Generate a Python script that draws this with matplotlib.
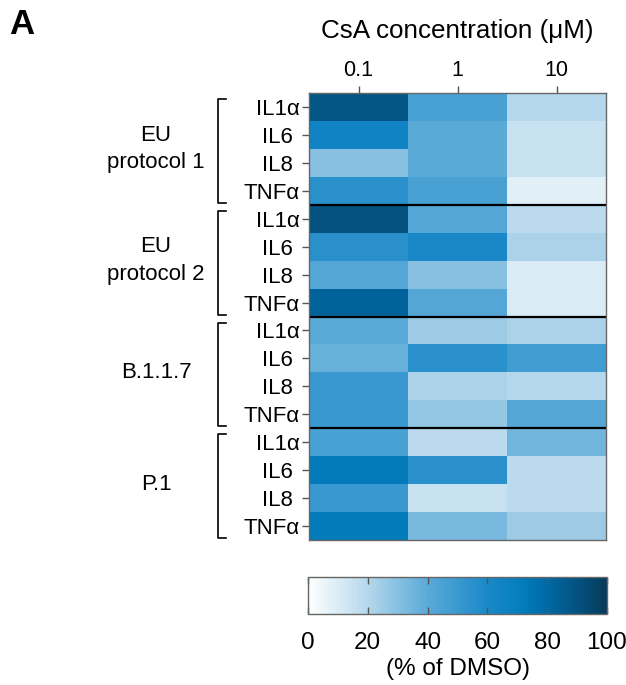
import matplotlib
matplotlib.use("Agg")

import matplotlib.pyplot as plt
import numpy as np
from matplotlib.colors import LinearSegmentedColormap
from matplotlib.transforms import blended_transform_factory

plt.rcParams.update({
    "font.family": ["Liberation Sans", "DejaVu Sans"],
    "font.size": 16,
})

concentrations = ["0.1", "1", "10"]
cytokines = ["IL1\u03b1", "IL6 ", "IL8 ", "TNF\u03b1"]
groups = ["EU\nprotocol 1", "EU\nprotocol 2", "B.1.1.7", "P.1"]

# % of DMSO, rows = cytokine within each group, cols = 0.1, 1, 10 uM
eu_protocol_1 = [[88, 45, 20], [65, 40, 15], [30, 40, 15], [55, 45, 8]]
eu_protocol_2 = [[90, 42, 18], [55, 60, 22], [42, 30, 10], [83, 42, 10]]
b117 = [[40, 25, 22], [37, 55, 48], [50, 22, 20], [50, 27, 42]]
p1 = [[45, 18, 35], [72, 55, 18], [50, 15, 18], [72, 33, 25]]

cbar_ticks = [0, 20, 40, 60, 80, 100]

values = np.array(eu_protocol_1 + eu_protocol_2 + b117 + p1, dtype=float)
n_rows, n_cols = values.shape

cmap = LinearSegmentedColormap.from_list(
    "dmso",
    [(0.0, "#ffffff"), (0.2, "#b5d7ec"), (0.4, "#5aaad8"),
     (0.6, "#1a88c8"), (0.7, "#0580c0"), (0.8, "#006aa6"), (1.0, "#073a5a")],
)

W, H = 626, 685
fig = plt.figure(figsize=(W / 100, H / 100), dpi=100)

# heatmap axes (pixel box 309..606 x 93..540)
ax = fig.add_axes([309 / W, 1 - 540 / H, 297 / W, 447 / H])
im = ax.imshow(values, cmap=cmap, vmin=0, vmax=100, aspect="auto",
               interpolation="nearest")
ax.set_xticks(range(n_cols))
ax.set_xticklabels(concentrations, fontsize=15.5)
ax.xaxis.tick_top()
ax.set_yticks(range(n_rows))
ax.set_yticklabels(cytokines * len(groups), fontsize=16)
ax.tick_params(axis="both", colors="#555555", labelcolor="black",
               length=5, width=1)
ax.tick_params(axis="x", pad=4)
ax.tick_params(axis="y", pad=2)
for sp in ax.spines.values():
    sp.set_color("#666666")
    sp.set_linewidth(1)

# group separators
for g in range(1, len(groups)):
    ax.axhline(g * 4 - 0.5, color="black", lw=1.6)

# brackets and group labels
tr = blended_transform_factory(ax.transAxes, ax.transData)
x_br = (218 - 309) / 297
x_end = (226 - 309) / 297
for g, name in enumerate(groups):
    top = g * 4 - 0.28
    bot = g * 4 + 3.43
    ax.plot([x_end, x_br, x_br, x_end], [top, top, bot, bot], color="black",
            lw=1.2, transform=tr, clip_on=False)
    ax.text((156 - 309) / 297, g * 4 + 1.5, name, transform=tr,
            ha="center", va="center", fontsize=16, linespacing=1.4)

fig.text(457 / W, 1 - 31 / H, "CsA concentration (\u03bcM)", ha="center",
         va="center", fontsize=18.7)
fig.text(9 / W, 1 - 24 / H, "A", ha="left", va="center", fontsize=25,
         fontweight="bold")

# colorbar
cax = fig.add_axes([308 / W, 1 - 614 / H, 299 / W, 37 / H])
cb = fig.colorbar(im, cax=cax, orientation="horizontal", ticks=cbar_ticks)
cb.outline.set_edgecolor("#666666")
cb.outline.set_linewidth(1)
cax.tick_params(axis="x", direction="in", top=True, bottom=True, length=5,
                width=1, colors="#555555", labelcolor="black", labelsize=17.5,
                pad=13)
cb.set_label("(% of DMSO)", fontsize=17.5, labelpad=3)

fig.savefig("out.png", dpi=100)
